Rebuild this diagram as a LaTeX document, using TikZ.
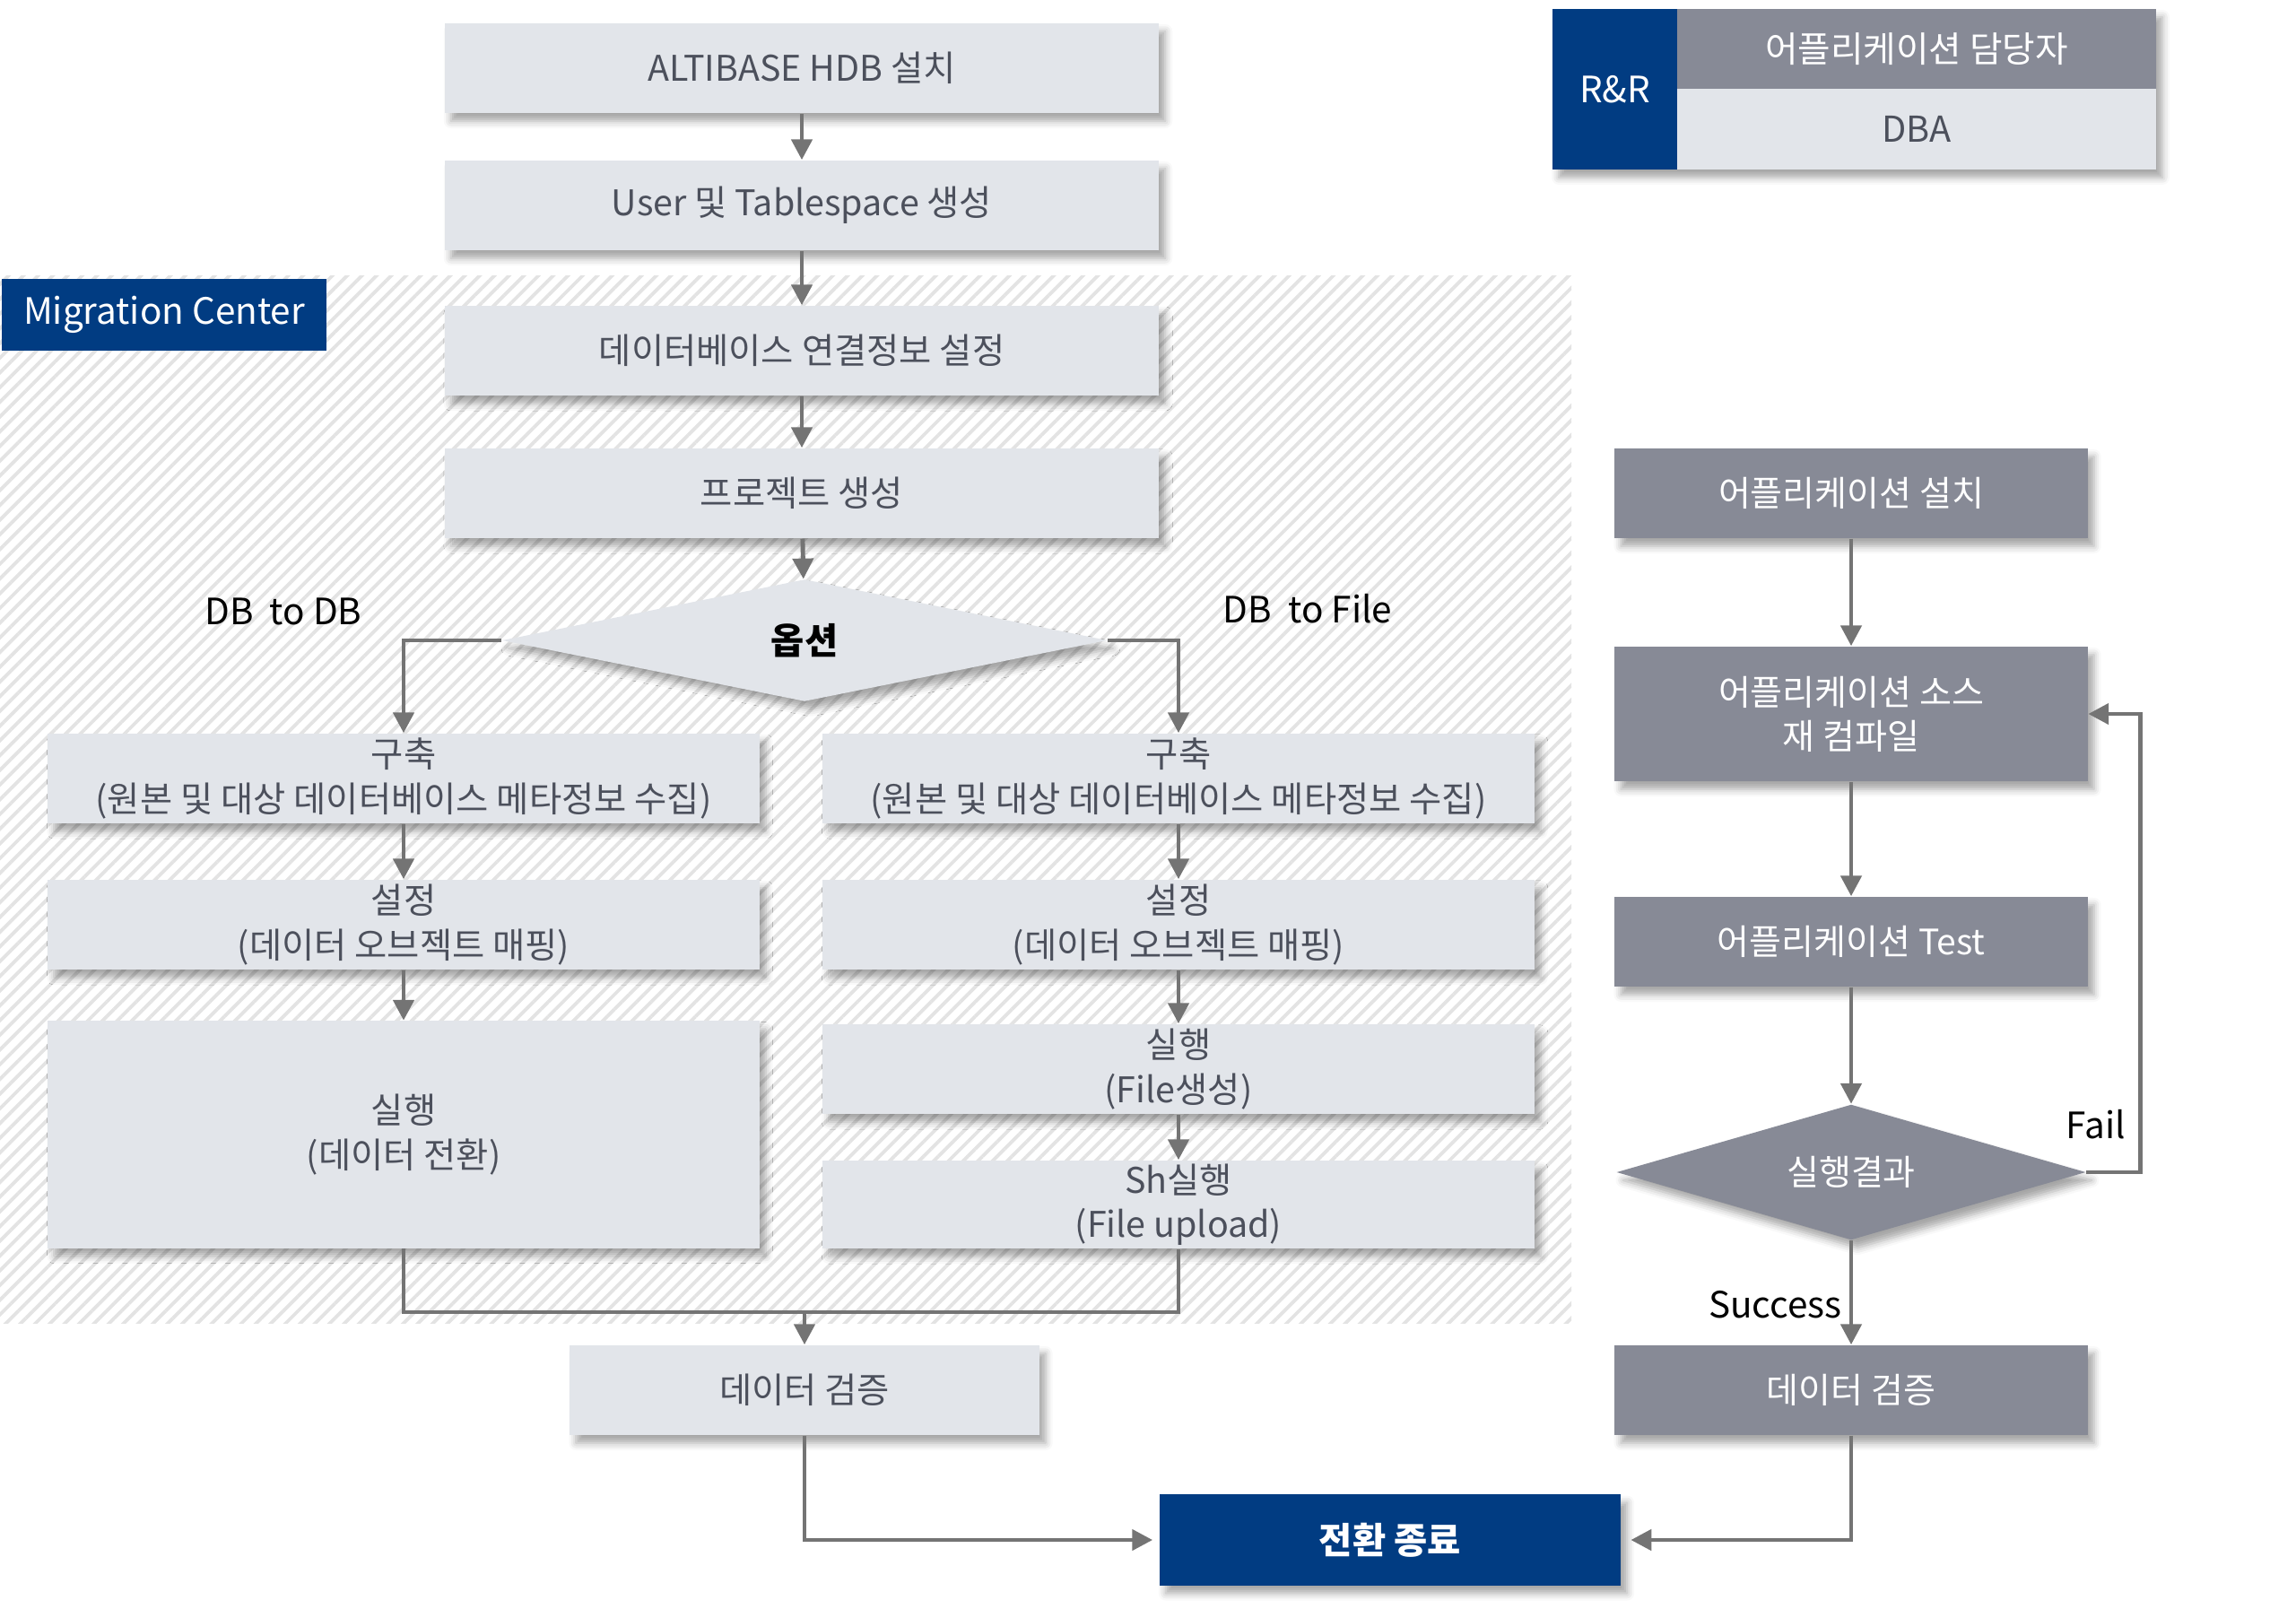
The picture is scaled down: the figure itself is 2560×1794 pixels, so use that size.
\documentclass[tikz,border=0pt]{standalone}
\usepackage{fontspec}
\setmainfont{Noto Sans CJK KR}
\usepackage{xcolor}
\usetikzlibrary{shapes.geometric, arrows.meta, shadows.blur, patterns.meta, calc}

\definecolor{mcblue}{HTML}{013C82}
\definecolor{boxlight}{HTML}{E2E5EA}
\definecolor{boxgray}{HTML}{878A96}
\definecolor{textdark}{HTML}{4C505C}
\definecolor{linegray}{HTML}{747474}

\tikzset{
  shade box/.style={blur shadow={shadow xshift=0.7mm, shadow yshift=-0.9mm, shadow opacity=35, shadow blur radius=0.8mm}},
  lbox/.style={shade box, fill=boxlight, text=textdark, inner sep=0pt, align=center,
    font=\fontsize{11.2}{14}\selectfont, minimum width=7.93cm, minimum height=1cm},
  gbox/.style={shade box, fill=boxgray, text=white, inner sep=0pt, align=center,
    font=\fontsize{11.1}{14}\selectfont, minimum width=5.27cm, minimum height=1cm},
  bbox/.style={fill=mcblue, text=white, inner sep=0pt, align=center},
  tag/.style={text=black, inner sep=0pt, font=\fontsize{11.5}{14}\selectfont},
  line/.style={draw=linegray, line width=1.4pt},
  arr/.style={line, -{Triangle[width=6.5pt,length=6.5pt]}}
}

\begin{document}
\begin{tikzpicture}[x=0.01cm, y=-0.01cm]
  \useasboundingbox (0,0) rectangle (2560,1794);

  % Migration Center area
  \fill[pattern={Lines[angle=45,distance=3.3pt,line width=1.1pt]}, pattern color=black!11]
    (0,308) rectangle (1752,1475);
  \node[bbox, font=\fontsize{11.5}{14}\selectfont, minimum width=3.61cm, minimum height=0.79cm]
    (mc) at (183,351) {Migration Center};

  % main flow
  \node[lbox, minimum width=7.96cm] (inst) at (894,76) {ALTIBASE HDB 설치};
  \node[lbox, minimum width=7.96cm] (user) at (894,229) {User 및 Tablespace 생성};
  \node[lbox, minimum width=7.96cm] (conn) at (894,391) {데이터베이스 연결정보 설정};
  \node[lbox, minimum width=7.96cm] (proj) at (894,550) {프로젝트 생성};
  \node[diamond, aspect=5, shade box, fill=boxlight, inner sep=0pt, minimum width=6.74cm, minimum height=1.36cm,
    font=\bfseries\fontsize{11.5}{14}\selectfont] (opt) at (897,714) {옵션};

  \node[tag] (dbdb) at (316,682) {DB~ to DB};
  \node[tag] (dbfile) at (1458,679) {DB~ to File};

  % DB to DB
  \node[lbox] (lbuild) at (450,868) {구축\\(원본 및 대상 데이터베이스 메타정보 수집)};
  \node[lbox] (lset) at (450,1031) {설정\\(데이터 오브젝트 매핑)};
  \node[lbox, minimum height=2.53cm] (lrun) at (450,1265) {실행\\(데이터 전환)};

  % DB to File
  \node[lbox] (rbuild) at (1314,868) {구축\\(원본 및 대상 데이터베이스 메타정보 수집)};
  \node[lbox] (rset) at (1314,1031) {설정\\(데이터 오브젝트 매핑)};
  \node[lbox] (rrun) at (1314,1192) {실행\\(File생성)};
  \node[lbox, minimum height=0.98cm] (rsh) at (1314,1343) {Sh실행\\(File upload)};

  \coordinate (merge) at (897,1463);
  \node[lbox, minimum width=5.23cm] (lver) at (897,1550) {데이터 검증};
  \node[bbox, shade box, font=\bfseries\fontsize{11.5}{14}\selectfont, minimum width=5.14cm, minimum height=1.01cm]
    (done) at (1550,1717) {전환 종료};

  % application
  \node[gbox] (apinst) at (2064,550) {어플리케이션 설치};
  \node[gbox, minimum height=1.5cm] (apsrc) at (2064,796) {어플리케이션 소스\\재 컴파일};
  \node[gbox] (aptest) at (2064,1050) {어플리케이션 Test};
  \node[diamond, aspect=3.5, shade box, fill=boxgray, text=white, inner sep=0pt, minimum width=5.23cm, minimum height=1.51cm,
    font=\fontsize{11.1}{14}\selectfont] (res) at (2064,1307) {실행결과};
  \node[gbox] (gver) at (2064,1550) {데이터 검증};
  \node[tag] (fail) at (2337,1254) {Fail};
  \node[tag, anchor=east] (succ) at (2054,1455) {Success};

  % R&R
  \fill[shade box, white] (1731,10) rectangle (2404,189);
  \node[bbox, font=\fontsize{11.5}{14}\selectfont, minimum width=1.39cm, minimum height=1.79cm]
    (rr) at (1800.5,99.5) {R\&R};
  \node[fill=boxgray, text=white, inner sep=0pt, font=\fontsize{11.3}{14}\selectfont,
    minimum width=5.34cm, minimum height=0.89cm] (rrapp) at (2137,54.5) {어플리케이션 담당자};
  \node[fill=boxlight, text=textdark, inner sep=0pt, font=\fontsize{11.3}{14}\selectfont,
    minimum width=5.34cm, minimum height=0.9cm] (rrdba) at (2137,144) {DBA};

  % connectors
  \draw[arr] (inst) -- (user);
  \draw[arr] (user) -- (conn);
  \draw[arr] (conn) -- (proj);
  \draw[arr] (proj) -- (opt);
  \draw[arr] (opt.west) -| (lbuild);
  \draw[arr] (opt.east) -| (rbuild);
  \draw[arr] (lbuild) -- (lset);
  \draw[arr] (lset) -- (lrun);
  \draw[arr] (rbuild) -- (rset);
  \draw[arr] (rset) -- (rrun);
  \draw[arr] (rrun) -- (rsh);
  \draw[line] (lrun.south) -- (lrun.south |- merge) -- (rsh.south |- merge) -- (rsh.south);
  \draw[arr] (merge) -- (lver);
  \draw[arr, shorten >=2pt] (lver) |- (done);

  \draw[arr] (apinst) -- (apsrc);
  \draw[arr] (apsrc) -- (aptest);
  \draw[arr] (aptest) -- (res);
  \draw[arr] (res) -- (gver);
  \draw[arr] (res.east) -- ++(60,0) |- (apsrc.east);
  \draw[arr, shorten >=3pt] (gver) |- (done);
\end{tikzpicture}
\end{document}
